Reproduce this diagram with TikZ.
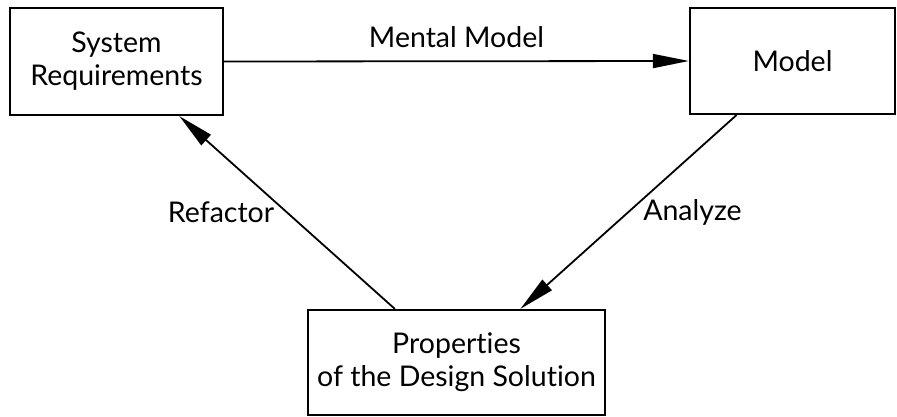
\documentclass[tikz,border=0pt]{standalone}
\usepackage{fontspec}
\setmainfont{Lato}[Ligatures=NoCommon]
\usetikzlibrary{arrows.meta,calc}
\tikzset{
  block/.style={draw, line width=2.2pt, align=center, inner sep=0pt,
    font=\fontsize{28.5}{33}\selectfont},
  flow/.style={line width=1.8pt, -{Triangle[length=36pt,width=14pt]}},
  tag/.style={font=\fontsize{28.5}{33}\selectfont, inner sep=0pt}
}

\begin{document}
\begin{tikzpicture}[x=1pt,y=1pt]
		%%%%% START %%%%%
		\useasboundingbox (0, 0) rectangle (897, 416);
		
		\node[block, minimum width=213, minimum height=107] (sysreq) at (116.5, 354.5) {System\\Requirements};
		\node[block, minimum width=205, minimum height=106] (model) at (792.5, 355) {Model};
		\node[block, minimum width=297, minimum height=105] (props) at (456.5, 53.5) {Properties\\of the Design Solution};
		
		\draw[flow] (sysreq.east) -- node[tag, above=13pt] {Mental Model} (model.west);
		\draw[flow] (model.224) -- node[tag, right=14pt] {Analyze} (props.40);
		\draw[flow] (props.139) -- node[tag, left=12pt] {Refactor} (sysreq.319);
		
		%%%%% END %%%%%
	\end{tikzpicture}
\end{document}
